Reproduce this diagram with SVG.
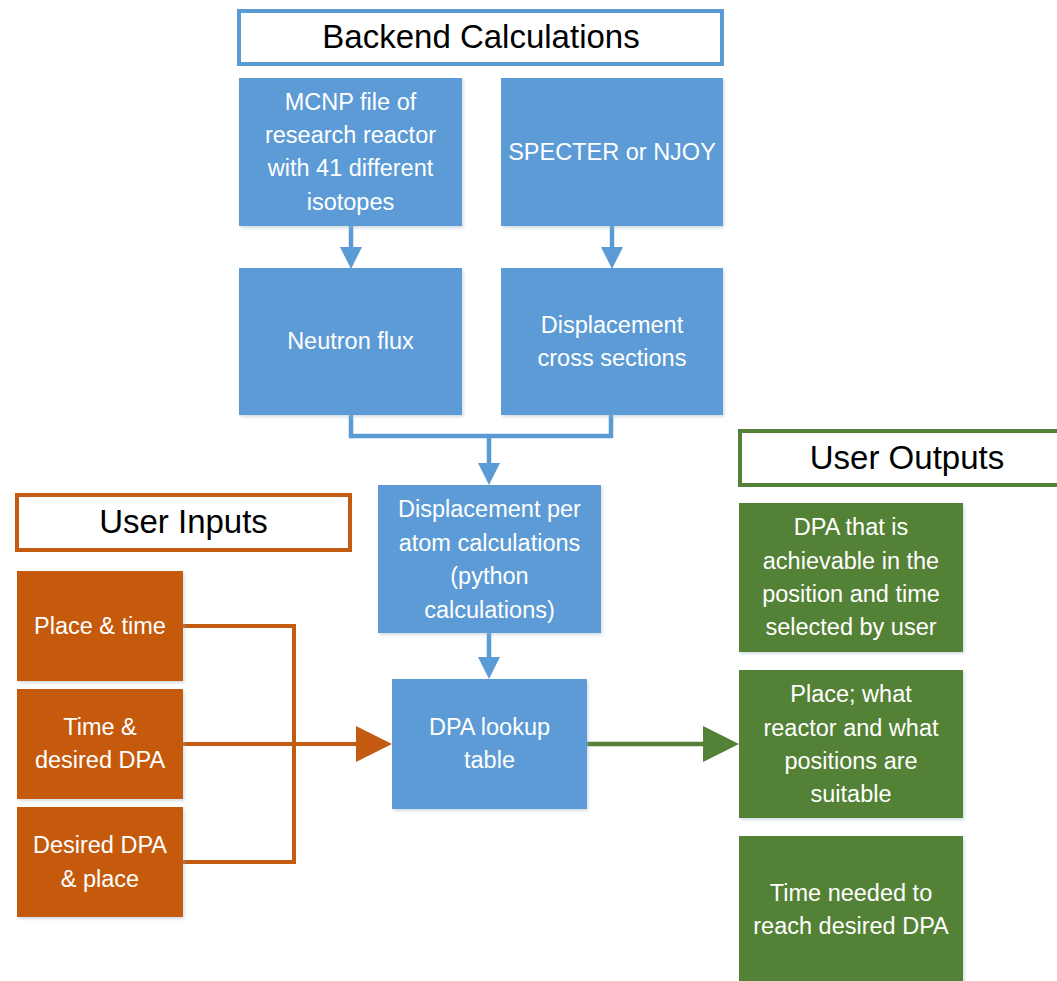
<svg xmlns="http://www.w3.org/2000/svg" width="1057" height="981" viewBox="0 0 1057 981">
<style>
  .lbl{font-family:"Liberation Sans",Arial,sans-serif;font-size:23.5px;fill:#ffffff;text-anchor:middle}
  .hdr{font-family:"Liberation Sans",Arial,sans-serif;font-size:33px;fill:#000000;text-anchor:middle}
  .blue{fill:#5b9bd5}
  .orange{fill:#c55a11}
  .green{fill:#538135}
  .hb{fill:#ffffff;stroke:#5b9bd5;stroke-width:4}
  .ho{fill:#ffffff;stroke:#c55a11;stroke-width:4}
  .hg{fill:#ffffff;stroke:#538135;stroke-width:4}
  .cb{fill:none;stroke:#5b9bd5;stroke-width:4.5}
  .co{fill:none;stroke:#c55a11;stroke-width:4}
  .cg{fill:none;stroke:#538135;stroke-width:4.5}
</style>
<defs>
  <filter id="sh" x="-10%" y="-10%" width="125%" height="125%">
    <feDropShadow dx="1.5" dy="2" stdDeviation="1.5" flood-color="#9fb3c8" flood-opacity="0.45"/>
  </filter>
  <marker id="ab" markerUnits="userSpaceOnUse" viewBox="0 -11 22 22" markerWidth="22" markerHeight="22" refX="0" refY="0" orient="auto" overflow="visible">
    <path d="M0,-11 L22,0 L0,11 Z" fill="#5b9bd5"/>
  </marker>
  <marker id="ao" markerUnits="userSpaceOnUse" viewBox="0 -18 36 36" markerWidth="36" markerHeight="36" refX="0" refY="0" orient="auto" overflow="visible">
    <path d="M0,-18 L36,0 L0,18 Z" fill="#c55a11"/>
  </marker>
  <marker id="ag" markerUnits="userSpaceOnUse" viewBox="0 -18 36 36" markerWidth="36" markerHeight="36" refX="0" refY="0" orient="auto" overflow="visible">
    <path d="M0,-18 L36,0 L0,18 Z" fill="#538135"/>
  </marker>
</defs>
<rect width="1057" height="981" fill="#ffffff"/>

<g id="connectors">
  <path class="cb" d="M351,226 V247" marker-end="url(#ab)"/>
  <path class="cb" d="M612,226 V247" marker-end="url(#ab)"/>
  <path class="cb" d="M351,415 V436 H611 V415"/>
  <path class="cb" d="M489,436 V463" marker-end="url(#ab)"/>
  <path class="cb" d="M489,633 V657" marker-end="url(#ab)"/>
  <path class="co" d="M183,626 H294 V862 H183"/>
  <path class="co" d="M183,744 H356" marker-end="url(#ao)"/>
  <path class="cg" d="M587,744 H703" marker-end="url(#ag)"/>
</g>

<g id="hdr-backend">
  <rect class="hb" x="239" y="11" width="483" height="53"/>
  <text class="hdr" x="481" y="48">Backend Calculations</text>
</g>
<g id="mcnp">
  <rect class="blue" x="239" y="78" width="223" height="148" filter="url(#sh)"/>
  <text class="lbl" x="350.5" y="110">MCNP file of</text>
  <text class="lbl" x="350.5" y="143">research reactor</text>
  <text class="lbl" x="350.5" y="176">with 41 different</text>
  <text class="lbl" x="350.5" y="210">isotopes</text>
</g>
<g id="specter">
  <rect class="blue" x="501" y="78" width="222" height="148" filter="url(#sh)"/>
  <text class="lbl" x="612" y="160">SPECTER or NJOY</text>
</g>
<g id="neutron">
  <rect class="blue" x="239" y="268" width="223" height="147" filter="url(#sh)"/>
  <text class="lbl" x="350.5" y="349">Neutron flux</text>
</g>
<g id="dxs">
  <rect class="blue" x="501" y="268" width="222" height="147" filter="url(#sh)"/>
  <text class="lbl" x="612" y="333">Displacement</text>
  <text class="lbl" x="612" y="366">cross sections</text>
</g>
<g id="dpa-calc">
  <rect class="blue" x="378" y="485" width="223" height="148" filter="url(#sh)"/>
  <text class="lbl" x="489.5" y="517">Displacement per</text>
  <text class="lbl" x="489.5" y="551">atom calculations</text>
  <text class="lbl" x="489.5" y="584">(python</text>
  <text class="lbl" x="489.5" y="618">calculations)</text>
</g>
<g id="lookup">
  <rect class="blue" x="392" y="679" width="195" height="130" filter="url(#sh)"/>
  <text class="lbl" x="489.5" y="735">DPA lookup</text>
  <text class="lbl" x="489.5" y="768">table</text>
</g>

<g id="hdr-inputs">
  <rect class="ho" x="17" y="495" width="333" height="55"/>
  <text class="hdr" x="183.5" y="533">User Inputs</text>
</g>
<g id="in-place-time">
  <rect class="orange" x="17" y="571" width="166" height="110" filter="url(#sh)"/>
  <text class="lbl" x="100" y="634">Place &amp; time</text>
</g>
<g id="in-time-dpa">
  <rect class="orange" x="17" y="689" width="166" height="110" filter="url(#sh)"/>
  <text class="lbl" x="100" y="735">Time &amp;</text>
  <text class="lbl" x="100" y="768">desired DPA</text>
</g>
<g id="in-dpa-place">
  <rect class="orange" x="17" y="807" width="166" height="110" filter="url(#sh)"/>
  <text class="lbl" x="100" y="853">Desired DPA</text>
  <text class="lbl" x="100" y="887">&amp; place</text>
</g>

<g id="hdr-outputs">
  <rect class="hg" x="740" y="431" width="336" height="54"/>
  <text class="hdr" x="907" y="469">User Outputs</text>
</g>
<g id="out-dpa">
  <rect class="green" x="739" y="503" width="224" height="149" filter="url(#sh)"/>
  <text class="lbl" x="851" y="535">DPA that is</text>
  <text class="lbl" x="851" y="569">achievable in the</text>
  <text class="lbl" x="851" y="602">position and time</text>
  <text class="lbl" x="851" y="635">selected by user</text>
</g>
<g id="out-place">
  <rect class="green" x="739" y="670" width="224" height="148" filter="url(#sh)"/>
  <text class="lbl" x="851" y="702">Place; what</text>
  <text class="lbl" x="851" y="736">reactor and what</text>
  <text class="lbl" x="851" y="769">positions are</text>
  <text class="lbl" x="851" y="802">suitable</text>
</g>
<g id="out-time">
  <rect class="green" x="739" y="836" width="224" height="148" filter="url(#sh)"/>
  <text class="lbl" x="851" y="901">Time needed to</text>
  <text class="lbl" x="851" y="934">reach desired DPA</text>
</g>
</svg>
